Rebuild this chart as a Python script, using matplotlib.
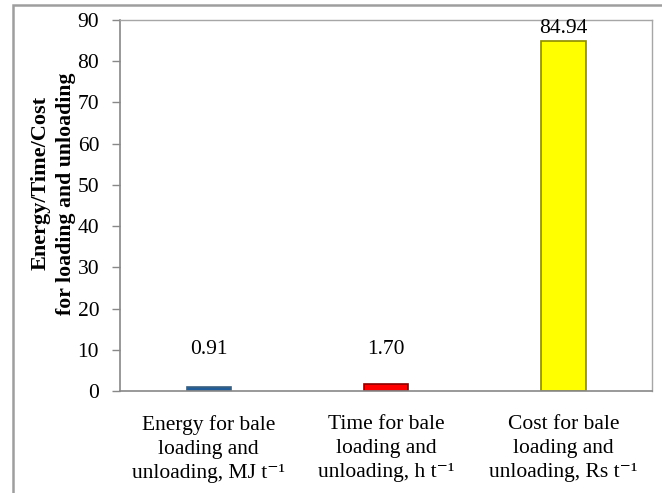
import matplotlib.pyplot as plt
from matplotlib.patches import Rectangle

plt.rcParams['font.family'] = ['Liberation Serif', 'DejaVu Serif']

categories = ['Energy for bale\nloading and\nunloading, MJ t\u207b\u00b9',
              'Time for bale\nloading and\nunloading, h t\u207b\u00b9',
              'Cost for bale\nloading and\nunloading, Rs t\u207b\u00b9']
values = [0.91, 1.70, 84.94]
value_text = ['0.91', '1.70', '84.94']
fills = ['#1F5C99', '#FF0000', '#FFFF00']
edges = ['#3A5F7F', '#8B0000', '#8C8C00']
yticks = [0, 10, 20, 30, 40, 50, 60, 70, 80, 90]

fs = 15.5

fig = plt.figure(figsize=(6.62, 4.93), dpi=100)
ax = fig.add_axes([120 / 662, 1 - 391 / 493, 532 / 662, 371 / 493])

x = range(len(values))
ax.bar(x, values, width=0.25, color=fills, edgecolor=edges, linewidth=1.2)

for i, (v, t) in enumerate(zip(values, value_text)):
    if v > 20:
        ax.text(i, v + 0.6, t, ha='center', va='bottom', fontsize=fs)
    else:
        ax.text(i, 10, t, ha='center', va='center', fontsize=fs)

ax.set_xlim(-0.5, 2.5)
ax.set_ylim(0, 90)
ax.set_yticks(yticks)
ax.tick_params(axis='y', labelsize=fs, length=6, width=1, color='#888888', pad=9)
ax.set_xticks(list(x))
ax.set_xticklabels(categories, fontsize=fs, linespacing=1.38)
ax.tick_params(axis='x', length=0, pad=17)

for side in ['left', 'bottom']:
    ax.spines[side].set_color('#888888')
    ax.spines[side].set_linewidth(1.2)
for side in ['top', 'right']:
    ax.spines[side].set_color('#A6A6A6')
    ax.spines[side].set_linewidth(1)

fig.text(41 / 662, 1 - 183 / 493, 'Energy/Time/Cost', rotation=90,
         ha='center', va='center', fontsize=16, fontweight='bold')
fig.text(66 / 662, 1 - 194 / 493, 'for loading and unloading', rotation=90,
         ha='center', va='center', fontsize=15.7, fontweight='bold')

# chart frame, cut off on the right and bottom
fig.patches.append(Rectangle((13 / 662, -0.1), 1.2, 1.1 - 5 / 493,
                             transform=fig.transFigure, fill=False,
                             edgecolor='#9E9E9E', linewidth=1.8))

fig.savefig('out.png', dpi=100)
